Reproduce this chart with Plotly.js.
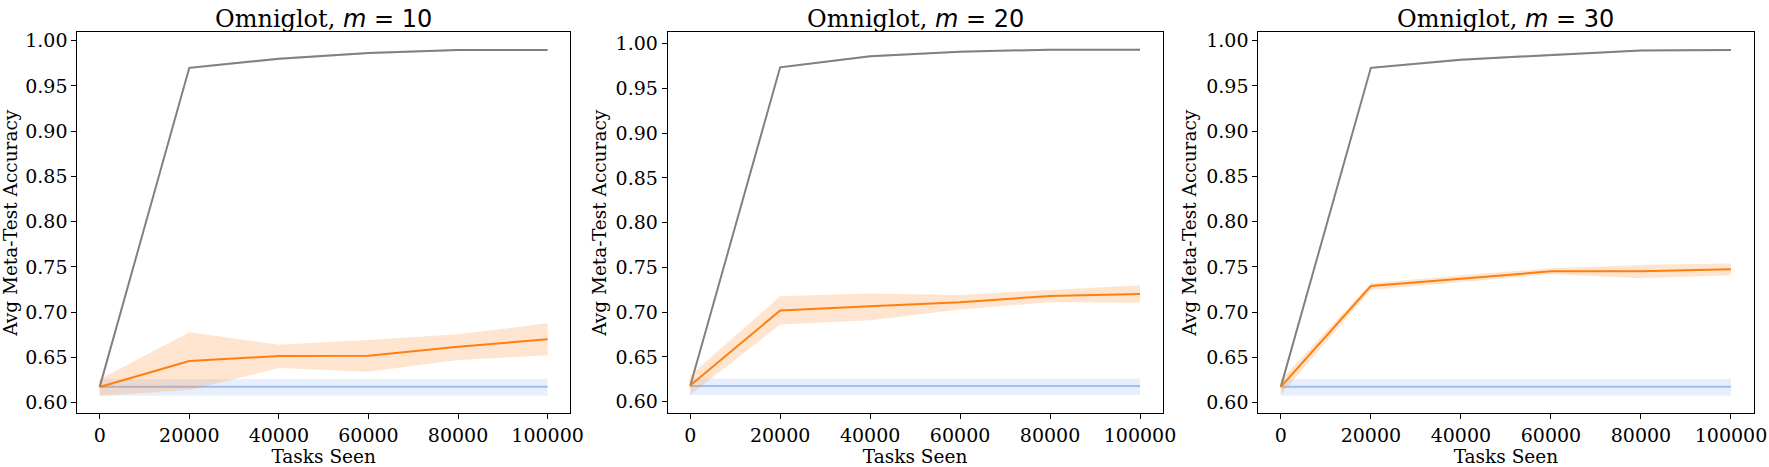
<!DOCTYPE html>
<html>
<head>
<meta charset="utf-8">
<script src="https://cdn.plot.ly/plotly-3.0.1.min.js"></script>
<style>
  html, body { margin: 0; padding: 0; background: #ffffff; }
  #chart { width: 1769px; height: 467px; }
</style>
</head>
<body>
<div id="chart"></div>
<script>
// Omniglot meta-test accuracy vs tasks seen, three values of m.
// Values.

const tasksSeen = [0, 20000, 40000, 60000, 80000, 100000];
const xTicks = [0, 20000, 40000, 60000, 80000, 100000];
const yTicks = [0.60, 0.65, 0.70, 0.75, 0.80, 0.85, 0.90, 0.95, 1.00];
const panelTitles = ['10', '20', '30'];

// blue baseline (same in every panel)
const blueMean  = [0.6175, 0.6175, 0.6175, 0.6175, 0.6175, 0.6175];
const blueUpper = [0.6260, 0.6260, 0.6260, 0.6260, 0.6260, 0.6260];
const blueLower = [0.6075, 0.6075, 0.6075, 0.6075, 0.6075, 0.6075];

// m = 10
const grayMean10   = [0.6173, 0.9700, 0.9800, 0.9864, 0.9897, 0.9897];
const grayUpper10  = [0.6185, 0.9712, 0.9812, 0.9876, 0.9907, 0.9907];
const grayLower10  = [0.6161, 0.9688, 0.9788, 0.9852, 0.9887, 0.9887];
const orangeMean10  = [0.6172, 0.6459, 0.6514, 0.6517, 0.6617, 0.6699];
const orangeUpper10 = [0.6258, 0.6776, 0.6639, 0.6690, 0.6754, 0.6877];
const orangeLower10 = [0.6074, 0.6138, 0.6381, 0.6340, 0.6470, 0.6522];

// m = 20
const grayMean20   = [0.6174, 0.9736, 0.9859, 0.9911, 0.9933, 0.9933];
const grayUpper20  = [0.6186, 0.9748, 0.9870, 0.9921, 0.9943, 0.9943];
const grayLower20  = [0.6162, 0.9724, 0.9848, 0.9901, 0.9923, 0.9923];
const orangeMean20  = [0.6181, 0.7018, 0.7066, 0.7111, 0.7182, 0.7204];
const orangeUpper20 = [0.6293, 0.7178, 0.7208, 0.7193, 0.7249, 0.7301];
const orangeLower20 = [0.6077, 0.6862, 0.6911, 0.7029, 0.7111, 0.7104];

// m = 30
const grayMean30   = [0.6173, 0.9700, 0.9790, 0.9845, 0.9893, 0.9897];
const grayUpper30  = [0.6185, 0.9712, 0.9802, 0.9857, 0.9903, 0.9907];
const grayLower30  = [0.6161, 0.9688, 0.9778, 0.9833, 0.9883, 0.9887];
const orangeMean30  = [0.6173, 0.7288, 0.7369, 0.7450, 0.7452, 0.7473];
const orangeUpper30 = [0.6250, 0.7318, 0.7406, 0.7484, 0.7520, 0.7536];
const orangeLower30 = [0.6090, 0.7244, 0.7332, 0.7420, 0.7373, 0.7407];

const SERIF = 'DejaVu Serif, serif';
const COLORS = {
  blueLine: 'rgba(100,149,237,0.55)', blueFill: 'rgba(100,149,237,0.15)',
  grayLine: '#808080',                grayFill: 'rgba(128,128,128,0.25)',
  orangeLine: '#ff7f0e',              orangeFill: 'rgba(255,127,14,0.2)',
};

// panel boxes in page pixels
const W = 1769, H = 467;
const panelX = [[77.3, 570], [667.7, 1162.5], [1258.3, 1753.5]];
const panelTop = 32.3, panelBottom = 413.3;
const yRanges = [[0.5881, 1.0093], [0.5870, 1.0127], [0.5881, 1.0093]];

const panels = [
  { gray: [grayMean10, grayUpper10, grayLower10], orange: [orangeMean10, orangeUpper10, orangeLower10] },
  { gray: [grayMean20, grayUpper20, grayLower20], orange: [orangeMean20, orangeUpper20, orangeLower20] },
  { gray: [grayMean30, grayUpper30, grayLower30], orange: [orangeMean30, orangeUpper30, orangeLower30] },
];

function band(upper, lower, color, xa, ya) {
  return {
    x: tasksSeen.concat(tasksSeen.slice().reverse()),
    y: upper.concat(lower.slice().reverse()),
    fill: 'toself', fillcolor: color, mode: 'lines', line: { width: 0 },
    hoverinfo: 'skip', showlegend: false, xaxis: xa, yaxis: ya,
  };
}

function line(y, color, xa, ya) {
  return { x: tasksSeen, y: y, mode: 'lines', line: { color: color, width: 2 },
    showlegend: false, xaxis: xa, yaxis: ya };
}

const traces = [];
const layout = {
  width: W, height: H,
  paper_bgcolor: '#ffffff', plot_bgcolor: '#ffffff',
  font: { family: SERIF, color: '#000000', size: 19 },
  margin: { l: 0, r: 0, t: 0, b: 0 },
  showlegend: false,
  annotations: [],
};

panels.forEach((p, i) => {
  const n = i === 0 ? '' : String(i + 1);
  const xa = 'x' + n, ya = 'y' + n;

  traces.push(band(blueUpper, blueLower, COLORS.blueFill, xa, ya));
  traces.push(line(blueMean, COLORS.blueLine, xa, ya));
  traces.push(band(p.gray[1], p.gray[2], COLORS.grayFill, xa, ya));
  traces.push(line(p.gray[0], COLORS.grayLine, xa, ya));
  traces.push(band(p.orange[1], p.orange[2], COLORS.orangeFill, xa, ya));
  traces.push(line(p.orange[0], COLORS.orangeLine, xa, ya));

  layout['xaxis' + n] = {
    domain: [panelX[i][0] / W, panelX[i][1] / W], anchor: ya,
    range: [-5000, 105000], tickvals: xTicks, tickformat: 'd',
    ticks: 'outside', ticklen: 5, tickcolor: '#000', tickwidth: 1,
    showgrid: false, zeroline: false,
    showline: true, mirror: true, linecolor: '#000', linewidth: 1,
    tickfont: { family: SERIF, size: 19 },
    title: { text: 'Tasks Seen', font: { family: SERIF, size: 18.5 }, standoff: 2 },
  };
  layout['yaxis' + n] = {
    domain: [1 - panelBottom / H, 1 - panelTop / H], anchor: xa,
    range: yRanges[i], tickvals: yTicks, tickformat: '.2f',
    ticks: 'outside', ticklen: 5, tickcolor: '#000', tickwidth: 1,
    showgrid: false, zeroline: false,
    showline: true, mirror: true, linecolor: '#000', linewidth: 1,
    tickfont: { family: SERIF, size: 19 },
    title: { text: 'Avg Meta-Test Accuracy', font: { family: SERIF, size: 18.5 }, standoff: 4 },
  };

  layout.annotations.push({
    xref: 'paper', yref: 'paper',
    x: (panelX[i][0] + panelX[i][1]) / 2 / W, y: 1 - panelTop / H, yshift: -3,
    xanchor: 'center', yanchor: 'bottom', showarrow: false,
    text: 'Omniglot, <span style="font-family:DejaVu Sans"><i>m</i> = ' + panelTitles[i] + '</span>',
    font: { family: SERIF, size: 24, color: '#000' },
  });
});

Plotly.newPlot('chart', traces, layout, { displayModeBar: false, staticPlot: true });
</script>
</body>
</html>
